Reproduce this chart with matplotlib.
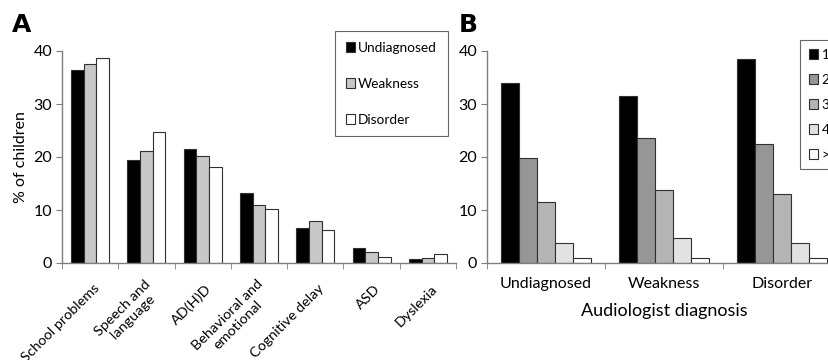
import matplotlib
matplotlib.use("Agg")
import matplotlib.pyplot as plt
import matplotlib.transforms as mtransforms
import numpy as np

plt.rcParams['font.family'] = ['Lato', 'DejaVu Sans']

# Panel A data
categories_a = ["School problems", "Speech and\nlanguage", "AD(H)D", "Behavioral and\nemotional",
                "Cognitive delay", "ASD", "Dyslexia"]
series_a_names = ["Undiagnosed", "Weakness", "Disorder"]
undiagnosed_a = [36.4, 19.5, 21.5, 13.3, 6.6, 2.8, 0.7]
weakness_a = [37.5, 21.1, 20.2, 10.9, 7.9, 2.1, 0.9]
disorder_a = [38.6, 24.7, 18.2, 10.2, 6.3, 1.2, 1.7]
colors_a = ["#000000", "#c8c8c8", "#ffffff"]

# Panel B data
categories_b = ["Undiagnosed", "Weakness", "Disorder"]
series_b_names = ["1", "2", "3", "4", ">4"]
count1_b = [34.0, 31.6, 38.4]
count2_b = [19.9, 23.6, 22.5]
count3_b = [11.6, 13.8, 13.1]
count4_b = [3.8, 4.8, 3.75]
count5_b = [0.9, 1.0, 1.0]
colors_b = ["#000000", "#969696", "#b4b4b4", "#e2e2e2", "#ffffff"]

W, H = 829, 360
fig = plt.figure(figsize=(W / 100, H / 100), dpi=100)

spine_col = "#7f7f7f"
edge_col = "#303030"

def style_axes(ax):
    for s in ["top", "right"]:
        ax.spines[s].set_visible(False)
    for s in ["left", "bottom"]:
        ax.spines[s].set_color(spine_col)
        ax.spines[s].set_linewidth(1.0)
    ax.set_ylim(0, 40)
    ax.set_yticks([0, 10, 20, 30, 40])
    ax.tick_params(axis="y", direction="out", length=4, color=spine_col, labelsize=11.5, pad=3)

# ---- Panel A ----
axA = fig.add_axes([62 / W, (H - 263) / H, 394 / W, 212 / H])
style_axes(axA)
xa = np.arange(len(categories_a))
bw_a = 0.225
for i, (vals, c, name) in enumerate(zip([undiagnosed_a, weakness_a, disorder_a], colors_a, series_a_names)):
    axA.bar(xa + (i - 1) * bw_a, vals, width=bw_a, color=c, edgecolor=edge_col, linewidth=0.8, label=name)
axA.set_xlim(-0.5, len(categories_a) - 0.5)
axA.set_xticks(xa)
axA.set_xticklabels(categories_a, rotation=45, ha="right", va="center", rotation_mode="anchor",
                    fontsize=10.4, multialignment="center", linespacing=1.15)
axA.set_xticks(np.arange(-0.5, len(categories_a) + 0.5, 1), minor=True)
axA.tick_params(axis="x", which="major", length=0, pad=17)
axA.tick_params(axis="x", which="minor", direction="out", length=4, color=spine_col)
off = mtransforms.ScaledTranslation(7 / 100, 0, fig.dpi_scale_trans)
for lbl in axA.get_xticklabels():
    lbl.set_transform(lbl.get_transform() + off)
axA.set_ylabel("% of children", fontsize=11.5, labelpad=4)
legA = axA.legend(loc="upper left", bbox_to_anchor=(335 / W, 1 - 31 / H), bbox_transform=fig.transFigure,
                  fontsize=9.8, frameon=True, fancybox=False, edgecolor="#404040",
                  handlelength=0.7, handleheight=0.7, handletextpad=0.2, labelspacing=1.75,
                  borderpad=0.8, borderaxespad=0)
legA.get_frame().set_linewidth(0.8)

fig.text(12 / W, 1 - 32 / H, "A", fontsize=18, fontweight="bold", family="DejaVu Sans", va="baseline")

# ---- Panel B ----
axB = fig.add_axes([487 / W, (H - 263) / H, 354 / W, 212 / H])
style_axes(axB)
xb = np.arange(len(categories_b))
bw_b = 0.153
for i, (vals, c, name) in enumerate(zip([count1_b, count2_b, count3_b, count4_b, count5_b], colors_b, series_b_names)):
    axB.bar(xb + (i - 2) * bw_b, vals, width=bw_b, color=c, edgecolor=edge_col, linewidth=0.8, label=name)
axB.set_xlim(-0.5, len(categories_b) - 0.5)
axB.set_xticks(xb)
axB.set_xticklabels(categories_b, fontsize=11.5)
axB.set_xticks(np.arange(-0.5, len(categories_b) + 0.5, 1), minor=True)
axB.tick_params(axis="x", which="major", length=0, pad=10)
axB.tick_params(axis="x", which="minor", direction="out", length=4, color=spine_col)
axB.set_xlabel("Audiologist diagnosis", fontsize=13, labelpad=9)
legB = axB.legend(loc="upper left", bbox_to_anchor=(800 / W, 1 - 40 / H), bbox_transform=fig.transFigure,
                  fontsize=9.8, frameon=True, fancybox=False, edgecolor="#404040",
                  handlelength=0.7, handleheight=0.7, handletextpad=0.25, labelspacing=0.95,
                  borderpad=0.65, borderaxespad=0)
legB.get_frame().set_linewidth(0.8)

fig.text(459 / W, 1 - 32 / H, "B", fontsize=18, fontweight="bold", family="DejaVu Sans", va="baseline")

fig.savefig("out.png", dpi=100)
